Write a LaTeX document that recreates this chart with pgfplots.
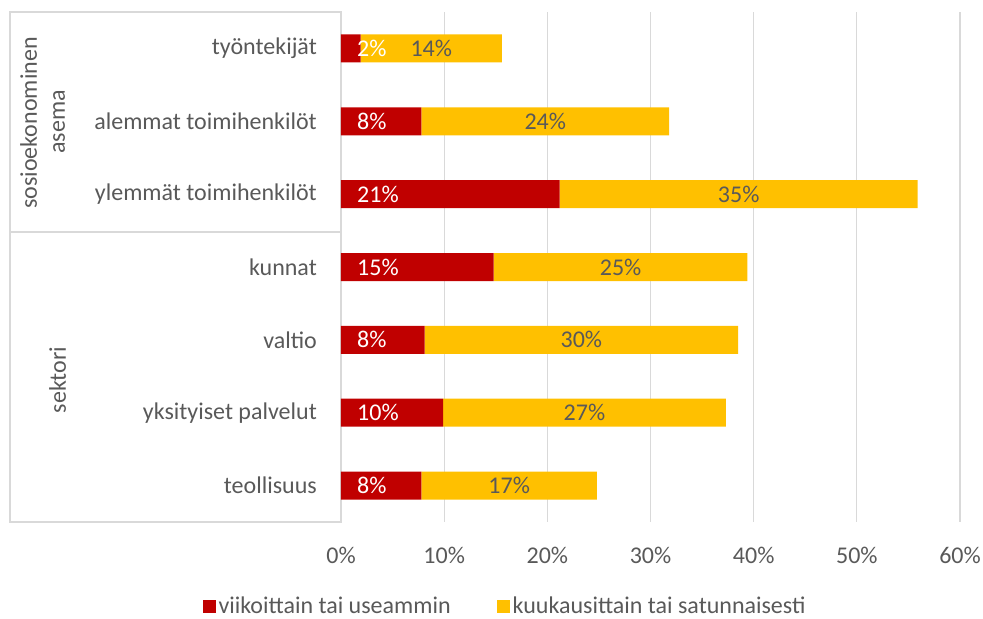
\documentclass[border=0pt]{standalone}
\usepackage{pgfplots}
\pgfplotsset{compat=1.18}
\usepackage{pgfplotstable}
\usepackage{fontspec}
\setmainfont{Carlito}
\definecolor{cred}{HTML}{C00000}
\definecolor{cyel}{HTML}{FFC000}
\definecolor{ctxt}{HTML}{595959}
\definecolor{cgrid}{HTML}{D9D9D9}

\pgfplotstableread{
y red yel rl yl
0 1.9 13.7 2 14
1 7.8 24.0 8 24
2 21.2 34.7 21 35
3 14.8 24.6 15 25
4 8.1 30.4 8 30
5 9.9 27.4 10 27
6 7.8 17.0 8 17
}\data

\pgfplotsset{frame/.style={
    at={(0,0)}, anchor=south west,
    scale only axis, width=619bp, height=510bp,
    xmin=0, xmax=60, ymin=-0.5, ymax=6.5, y dir=reverse}}

\begin{document}
\begin{tikzpicture}[font=\fontsize{24bp}{29bp}\selectfont]
\useasboundingbox (-341bp,-97bp) rectangle (642bp,522bp);
% table frame on the left
\draw[cgrid, line width=1.3bp] (-331bp,510bp) -- (0,510bp) -- (0,0) -- (-331bp,0) -- cycle;
\draw[cgrid, line width=1.3bp] (-331bp,290bp) -- (0,290bp);
\node[rotate=90, anchor=base, text=ctxt] at (-304bp,399bp) {sosioekonominen};
\node[rotate=90, anchor=base, text=ctxt] at (-276bp,400bp) {asema};
\node[rotate=90, anchor=base, text=ctxt] at (-275bp,142bp) {sektori};
\begin{axis}[
    frame,
    xbar stacked, bar width=28bp,
    xtick={0,10,...,60},
    xticklabels={0\%,10\%,20\%,30\%,40\%,50\%,60\%},
    ytick={0,...,6},
    yticklabels={työntekijät\ ,alemmat toimihenkilöt,ylemmät toimihenkilöt,kunnat\ ,valtio,yksityiset palvelut,teollisuus},
    major tick length=0pt,
    axis line style={draw=none},
    xmajorgrids, grid style={cgrid, line width=1.3bp},
    tick label style={text=ctxt, inner sep=0pt},
    xticklabel style={anchor=base, yshift=-41bp},
    yticklabel style={anchor=east, xshift=-24bp},
    legend style={at={(0.2658,-0.165)}, anchor=center, draw=none, fill=none,
        text=ctxt, legend columns=2, inner sep=0pt,
        nodes={inner xsep=2.5bp, inner ysep=0bp}},
    /tikz/every even column/.append style={column sep=44bp},
    legend image code/.code={\path[#1, draw=none] (0bp,-6.5bp) rectangle (13bp,6.5bp);},
]
\addplot[fill=cred, draw=none] table[x=red, y=y] {\data};
\addplot[fill=cyel, draw=none] table[x=yel, y=y] {\data};
\legend{viikoittain tai useammin, kuukausittain tai satunnaisesti}
\end{axis}
% data labels
\begin{axis}[frame, hide axis]
\addplot[draw=none, mark=none, point meta=explicit symbolic,
    nodes near coords={\pgfplotspointmeta\%},
    nodes near coords style={text=white, anchor=west, inner sep=0pt, xshift=16bp}]
    table[x expr=0, y=y, meta=rl] {\data};
\addplot[draw=none, mark=none, point meta=explicit symbolic,
    nodes near coords={\pgfplotspointmeta\%},
    nodes near coords style={text=ctxt, anchor=center, inner sep=0pt}]
    table[x expr=\thisrow{red}+\thisrow{yel}/2, y=y, meta=yl] {\data};
\end{axis}
\end{tikzpicture}
\end{document}
